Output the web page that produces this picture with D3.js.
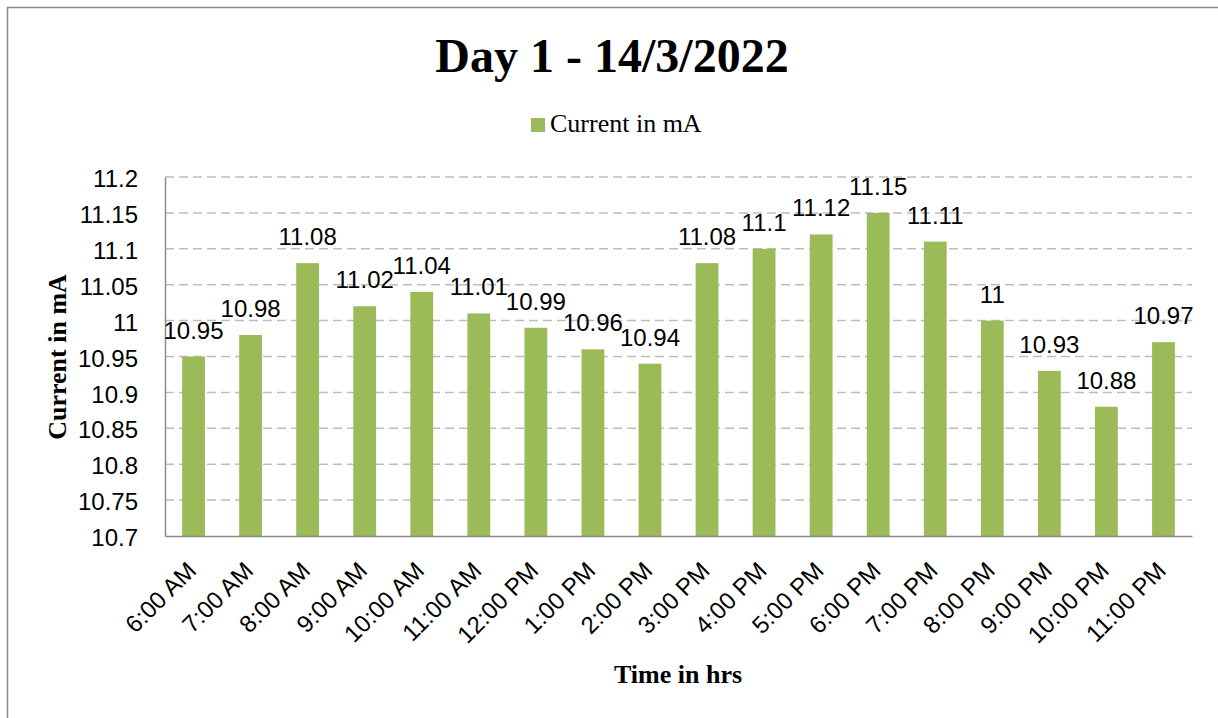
<!DOCTYPE html>
<html>
<head>
<meta charset="utf-8">
<script src="https://cdnjs.cloudflare.com/ajax/libs/d3/7.8.5/d3.min.js"></script>
<style>
  body { margin: 0; background: #fff; }
  svg { display: block; }
</style>
</head>
<body>
<div class="canvas"></div>
<script>
// chart data
const hours = ['6:00 AM', '7:00 AM', '8:00 AM', '9:00 AM', '10:00 AM', '11:00 AM', '12:00 PM',
    '1:00 PM', '2:00 PM', '3:00 PM', '4:00 PM', '5:00 PM', '6:00 PM', '7:00 PM',
    '8:00 PM', '9:00 PM', '10:00 PM', '11:00 PM'];
const current = [10.95, 10.98, 11.08, 11.02, 11.04, 11.01, 10.99, 10.96, 10.94,
    11.08, 11.1, 11.12, 11.15, 11.11, 11, 10.93, 10.88, 10.97];
const yTicks = [10.7, 10.75, 10.8, 10.85, 10.9, 10.95, 11, 11.05, 11.1, 11.15, 11.2];

const dims = { width: 1218, height: 718 };
const plot = { left: 165, right: 1192, top: 177, bottom: 536 };
const sans = '"Liberation Sans", Arial, sans-serif';
const serif = '"Liberation Serif", "Times New Roman", serif';

const svg = d3.select('.canvas')
    .append('svg')
    .attr('width', dims.width)
    .attr('height', dims.height);

// outer chart frame (runs off right/bottom edge)
svg.append('rect')
    .attr('x', 7.5).attr('y', 7.5)
    .attr('width', dims.width + 20).attr('height', dims.height + 20)
    .attr('fill', '#fff')
    .attr('stroke', '#8c8c8c')
    .attr('stroke-width', 1.5);

const x = d3.scaleBand()
    .domain(hours)
    .range([plot.left, plot.right])
    .paddingInner(0.6)
    .paddingOuter(0.3);

const y = d3.scaleLinear()
    .domain([10.7, 11.2])
    .range([plot.bottom, plot.top]);

// dashed gridlines
svg.append('g')
    .selectAll('line')
    .data(yTicks.slice(1))
    .enter()
    .append('line')
    .attr('x1', plot.left).attr('x2', plot.right)
    .attr('y1', d => y(d)).attr('y2', d => y(d))
    .attr('stroke', '#bdbdbd')
    .attr('stroke-width', 1.5)
    .attr('stroke-dasharray', '9,5');

// y axis
const yAxis = svg.append('g')
    .attr('transform', `translate(${plot.left}, 0)`)
    .call(d3.axisLeft(y).tickValues(yTicks).tickSize(0).tickPadding(27).tickFormat(d3.format('')));
yAxis.select('.domain').attr('stroke', '#8c8c8c').attr('stroke-width', 1.5);
yAxis.selectAll('text')
    .attr('font-family', sans)
    .attr('font-size', 24)
    .attr('fill', '#000')
    .attr('dy', '0.4em');

// bars
svg.append('g')
    .selectAll('rect')
    .data(current)
    .enter()
    .append('rect')
    .attr('x', (d, i) => x(hours[i]))
    .attr('width', x.bandwidth())
    .attr('y', d => y(d))
    .attr('height', d => plot.bottom - y(d))
    .attr('fill', '#9bbb59');

// data labels
svg.append('g')
    .selectAll('text')
    .data(current)
    .enter()
    .append('text')
    .attr('x', (d, i) => x(hours[i]) + x.bandwidth() / 2)
    .attr('y', d => y(d) - 18)
    .attr('text-anchor', 'middle')
    .attr('font-family', sans)
    .attr('font-size', 24)
    .attr('fill', '#000')
    .text(d => d);

// x axis
const xAxis = svg.append('g')
    .attr('transform', `translate(0, ${plot.bottom})`)
    .call(d3.axisBottom(x).tickSize(0).tickFormat(''));
xAxis.select('.domain').attr('stroke', '#8c8c8c').attr('stroke-width', 1.5);

svg.append('g')
    .selectAll('text')
    .data(hours)
    .enter()
    .append('text')
    .attr('transform', d => `translate(${x(d) + x.bandwidth() / 2 + 4}, 572) rotate(-45)`)
    .attr('text-anchor', 'end')
    .attr('font-family', sans)
    .attr('font-size', 24)
    .attr('fill', '#000')
    .text(d => d);

// title
svg.append('text')
    .attr('x', 612).attr('y', 72)
    .attr('text-anchor', 'middle')
    .attr('font-family', serif)
    .attr('font-weight', 'bold')
    .attr('font-size', 48)
    .text('Day 1 - 14/3/2022');

// legend
svg.append('rect')
    .attr('x', 531).attr('y', 118)
    .attr('width', 14).attr('height', 14)
    .attr('fill', '#9bbb59');
svg.append('text')
    .attr('x', 550).attr('y', 132)
    .attr('font-family', serif)
    .attr('font-size', 26)
    .text('Current in mA');

// axis titles
svg.append('text')
    .attr('x', 678).attr('y', 683)
    .attr('text-anchor', 'middle')
    .attr('font-family', serif)
    .attr('font-weight', 'bold')
    .attr('font-size', 26)
    .text('Time in hrs');

svg.append('text')
    .attr('transform', 'translate(66, 357) rotate(-90)')
    .attr('text-anchor', 'middle')
    .attr('font-family', serif)
    .attr('font-weight', 'bold')
    .attr('font-size', 26)
    .text('Current in mA');
</script>
</body>
</html>
